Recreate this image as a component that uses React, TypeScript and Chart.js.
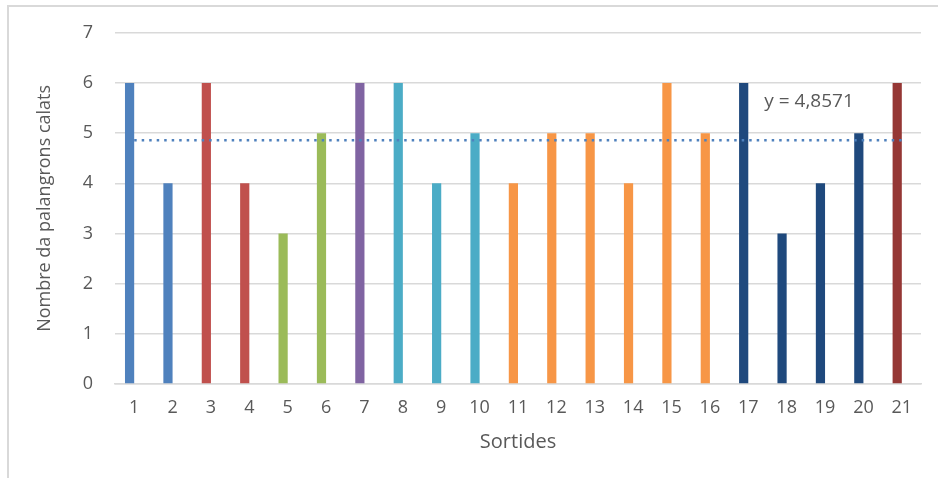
import React, { useEffect, useRef } from "react";
import { Chart, registerables } from "chart.js";

Chart.register(...registerables);

// Sortides (fishing trips) and longlines set on each one
const sortides = ["1", "2", "3", "4", "5", "6", "7", "8", "9", "10", "11", "12", "13", "14", "15", "16", "17", "18", "19", "20", "21"];
const palangrons = [6, 4, 6, 4, 3, 5, 6, 6, 4, 5, 4, 5, 5, 4, 6, 5, 6, 3, 4, 5, 6];
const colors = [
  "#4F81BD", "#4F81BD",
  "#C0504D", "#C0504D",
  "#9BBB59", "#9BBB59",
  "#8064A2",
  "#4BACC6", "#4BACC6", "#4BACC6",
  "#F79646", "#F79646", "#F79646", "#F79646", "#F79646", "#F79646",
  "#1F497D", "#1F497D", "#1F497D", "#1F497D",
  "#953735",
];
const yTicks = [0, 1, 2, 3, 4, 5, 6, 7];

const mitjana = palangrons.reduce((a, b) => a + b, 0) / palangrons.length;
const mitjanaText = "y = " + mitjana.toFixed(4).replace(".", ",");

const FONT = "'Open Sans', sans-serif";
const TEXT = "#595959";
const GRID = "#D9D9D9";

const trendLabel = {
  id: "trendLabel",
  afterDatasetsDraw(chart: any) {
    const { ctx, scales } = chart;
    const x = scales.x.getPixelForValue(16) + 16;
    const y = scales.y.getPixelForValue(5.62);
    ctx.save();
    ctx.font = "19px " + FONT;
    ctx.fillStyle = TEXT;
    ctx.textAlign = "left";
    ctx.textBaseline = "middle";
    ctx.fillText(mitjanaText, x, y);
    ctx.restore();
  },
};

export default function App() {
  const ref = useRef<HTMLCanvasElement>(null);

  useEffect(() => {
    if (!ref.current) return;
    const chart = new Chart(ref.current, {
      type: "bar",
      data: {
        labels: sortides,
        datasets: [
          {
            type: "line",
            label: "Mitjana",
            data: sortides.map(() => mitjana),
            borderColor: "#4F81BD",
            borderWidth: 2.5,
            borderDash: [2.5, 5],
            pointRadius: 0,
            fill: false,
            order: 0,
          } as any,
          {
            label: "Palangrons",
            data: palangrons,
            backgroundColor: colors,
            categoryPercentage: 0.48,
            barPercentage: 1,
            order: 1,
          },
          {
            label: "",
            data: palangrons.map(() => null),
            backgroundColor: "transparent",
            categoryPercentage: 0.48,
            barPercentage: 1,
            order: 1,
          },
        ],
      },
      options: {
        animation: false,
        responsive: false,
        maintainAspectRatio: false,
        layout: { padding: { left: 0, top: 30, right: 17, bottom: 0 } },
        plugins: { legend: { display: false }, tooltip: { enabled: false } },
        scales: {
          x: {
            grid: { display: false, drawTicks: false },
            border: { display: true, color: GRID, width: 1.5 },
            ticks: { color: TEXT, font: { family: FONT, size: 18 }, padding: 13, maxRotation: 0 },
            title: {
              display: true,
              text: "Sortides",
              color: TEXT,
              font: { family: FONT, size: 20 },
              padding: { top: 0, bottom: 24 },
            },
            afterFit(scale: any) {
              scale.height = 94;
            },
          },
          y: {
            min: 0,
            max: 7,
            afterBuildTicks(scale: any) {
              scale.ticks = yTicks.map((v) => ({ value: v }));
            },
            grid: { color: GRID, lineWidth: 1.5, drawTicks: false },
            border: { display: false },
            ticks: { color: TEXT, font: { family: FONT, size: 18 }, padding: 22 },
            title: {
              display: true,
              text: "Nombre da palangrons calats",
              color: TEXT,
              font: { family: FONT, size: 18 },
              padding: { top: 34, bottom: 0 },
            },
            afterFit(scale: any) {
              scale.width = 115;
            },
          },
        },
      },
      plugins: [trendLabel],
    });
    return () => chart.destroy();
  }, []);

  return (
    <div style={{ position: "absolute", left: 0, top: 0, width: 938, height: 478, background: "#fff" }}>
      <div
        style={{
          position: "absolute",
          left: 7,
          top: 5,
          right: 0,
          bottom: 0,
          borderTop: "2px solid " + GRID,
          borderLeft: "2px solid " + GRID,
        }}
      />
      <canvas ref={ref} width={938} height={478} style={{ position: "absolute", left: 0, top: 0 }} />
    </div>
  );
}
